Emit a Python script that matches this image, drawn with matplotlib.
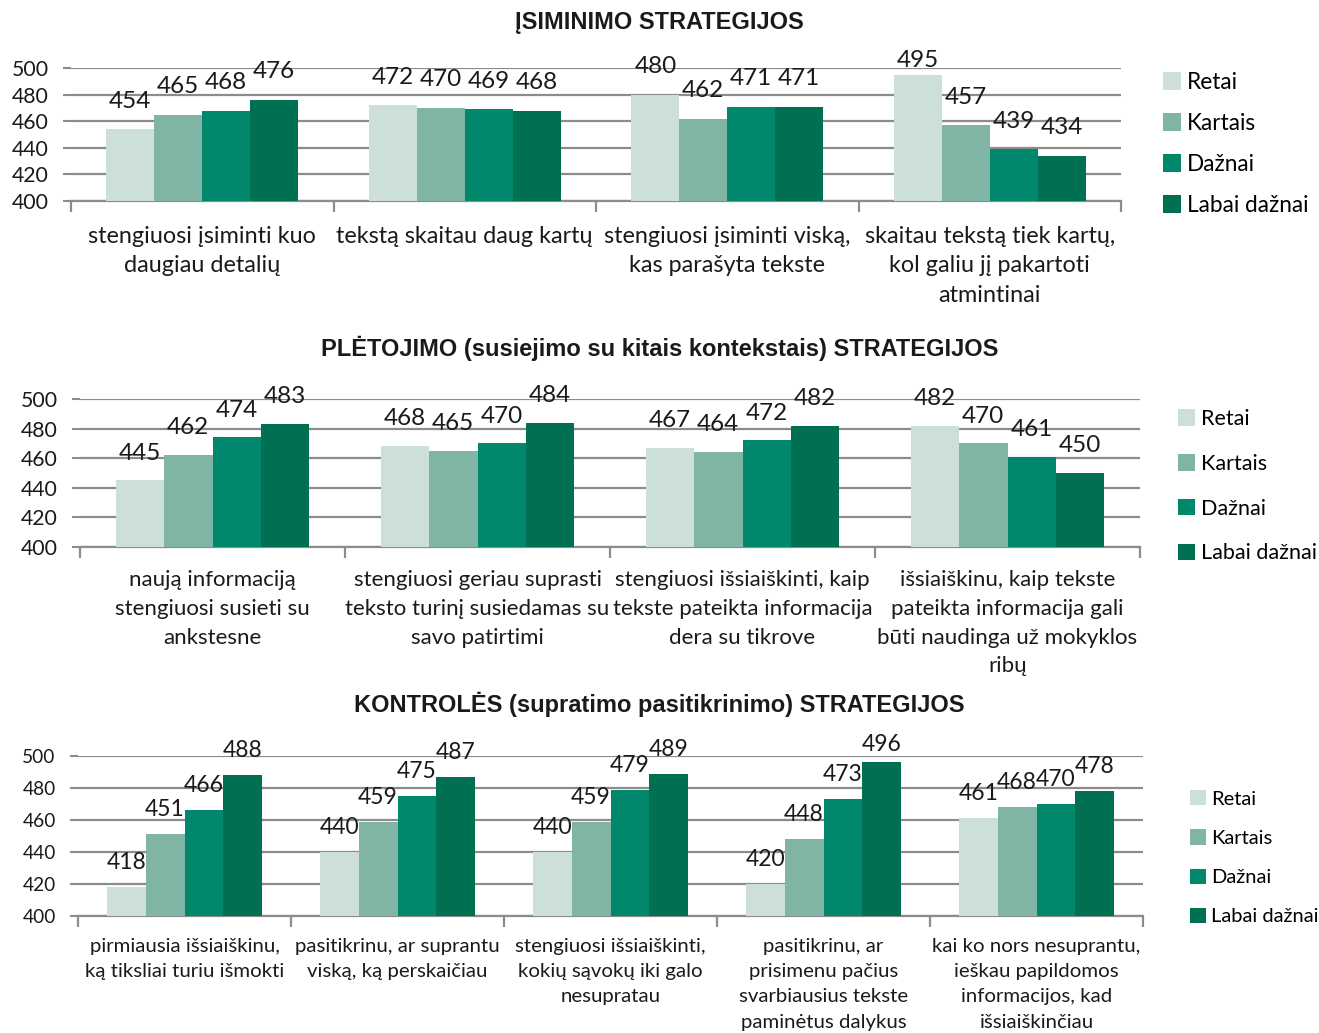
import matplotlib
matplotlib.use('Agg')
import matplotlib.pyplot as plt
import numpy as np
from matplotlib.patches import Patch

series = ['Retai', 'Kartais', 'Dažnai', 'Labai dažnai']
colors = ['#cce0d9', '#80b5a6', '#00876c', '#006f52']

# Panel 1
title1 = 'ĮSIMINIMO STRATEGIJOS'
cats1 = ['stengiuosi įsiminti kuo\ndaugiau detalių',
         'tekstą skaitau daug kartų',
         'stengiuosi įsiminti viską,\nkas parašyta tekste',
         'skaitau tekstą tiek kartų,\nkol galiu jį pakartoti\natmintinai']
retai1 = [454, 472, 480, 495]
kartais1 = [465, 470, 462, 457]
daznai1 = [468, 469, 471, 439]
labai1 = [476, 468, 471, 434]

# Panel 2
title2 = 'PLĖTOJIMO (susiejimo su kitais kontekstais) STRATEGIJOS'
cats2 = ['naują informaciją\nstengiuosi susieti su\nankstesne',
         'stengiuosi geriau suprasti\nteksto turinį susiedamas su\nsavo patirtimi',
         'stengiuosi išsiaiškinti, kaip\ntekste pateikta informacija\ndera su tikrove',
         'išsiaiškinu, kaip tekste\npateikta informacija gali\nbūti naudinga už mokyklos\nribų']
retai2 = [445, 468, 467, 482]
kartais2 = [462, 465, 464, 470]
daznai2 = [474, 470, 472, 461]
labai2 = [483, 484, 482, 450]

# Panel 3
title3 = 'KONTROLĖS (supratimo pasitikrinimo) STRATEGIJOS'
cats3 = ['pirmiausia išsiaiškinu,\nką tiksliai turiu išmokti',
         'pasitikrinu, ar suprantu\nviską, ką perskaičiau',
         'stengiuosi išsiaiškinti,\nkokių sąvokų iki galo\nnesupratau',
         'pasitikrinu, ar\nprisimenu pačius\nsvarbiausius tekste\npaminėtus dalykus',
         'kai ko nors nesuprantu,\nieškau papildomos\ninformacijos, kad\nišsiaiškinčiau']
retai3 = [418, 440, 440, 420, 461]
kartais3 = [451, 459, 459, 448, 468]
daznai3 = [466, 475, 479, 473, 470]
labai3 = [488, 487, 489, 496, 478]

yticks = [400, 420, 440, 460, 480, 500]

W, H = 1319, 1033
fig = plt.figure(figsize=(W / 100, H / 100), dpi=100)
FONT = 'Lato'
grid_c = '#8c8c8c'

panels = [
    dict(title=title1, cats=cats1, data=[retai1, kartais1, daznai1, labai1],
         box=(71, 68, 1121, 201), title_y=22, lab_fs=17.5, ytick_fs=15.3, cat_fs=16.8,
         cat_pad=18, cat_ls=1.49, off=21, cap=505.5,
         leg=(1163, 72), leg_fs=16.3, leg_sp=0.88),
    dict(title=title2, cats=cats2, data=[retai2, kartais2, daznai2, labai2],
         box=(80, 399, 1140, 547), title_y=348, lab_fs=17.5, ytick_fs=15.3, cat_fs=16,
         cat_pad=16.5, cat_ls=1.55, off=18.5, cap=506,
         leg=(1178, 409), leg_fs=15.5, leg_sp=1.15),
    dict(title=title3, cats=cats3, data=[retai3, kartais3, daznai3, labai3],
         box=(78, 756, 1143, 916), title_y=704, lab_fs=16.5, ytick_fs=13.8, cat_fs=14.7,
         cat_pad=15.5, cat_ls=1.6, off=15.3, cap=507,
         leg=(1190, 790), leg_fs=14.5, leg_sp=1.07),
]

group_w = 0.73
for p in panels:
    x0, y0, x1, y1 = p['box']
    ax = fig.add_axes([x0 / W, 1 - y1 / H, (x1 - x0) / W, (y1 - y0) / H])
    n = len(p['cats'])
    bw = group_w / 4
    centers = np.arange(n) + 0.5
    for j, (vals, c) in enumerate(zip(p['data'], colors)):
        xs = centers + (j - 1.5) * bw
        v = np.array(vals)
        ax.bar(xs, v - 400, bottom=400, width=bw, color=c, zorder=3, linewidth=0)
        for xx, vv in zip(xs, v):
            ax.text(xx, min(vv + p['off'], p['cap']), str(vv), ha='center', va='center',
                    fontsize=p['lab_fs'], family=FONT, color='#1a1a1a', zorder=5, clip_on=False)
    ax.set_xlim(0, n)
    ax.set_ylim(400, 500)
    ax.set_yticks(yticks)
    ax.set_yticklabels([str(t) for t in yticks], fontsize=p['ytick_fs'], family=FONT, color='#1a1a1a')
    ax.tick_params(axis='y', length=6, width=1.5, color=grid_c, pad=10)
    ax.grid(axis='y', color=grid_c, linewidth=1.6, zorder=0)
    ax.set_xticks(centers)
    ax.set_xticklabels(p['cats'], fontsize=p['cat_fs'], family=FONT, color='#1a1a1a')
    for t in ax.get_xticklabels():
        t.set_linespacing(p['cat_ls'])
    ax.tick_params(axis='x', which='major', length=0, pad=p['cat_pad'])
    ax.set_xticks(np.arange(n + 1), minor=True)
    ax.tick_params(axis='x', which='minor', length=8, width=1.6, color=grid_c)
    for s in ['left', 'right', 'top']:
        ax.spines[s].set_visible(False)
    ax.spines['bottom'].set_color(grid_c)
    ax.spines['bottom'].set_linewidth(1.6)
    ax.set_axisbelow(True)

    fig.text(0.5, 1 - p['title_y'] / H, p['title'], ha='center', va='center',
             fontsize=17, fontweight='bold', family='Liberation Sans', color='#1a1a1a')

    handles = [Patch(facecolor=c, edgecolor='none', label=s) for s, c in zip(series, colors)]
    lx, ly = p['leg']
    fig.legend(handles=handles, loc='upper left', bbox_to_anchor=(lx / W, 1 - ly / H),
               frameon=False, prop={'family': FONT, 'size': p['leg_fs']},
               handlelength=0.8, handleheight=0.8, handletextpad=0.25,
               labelspacing=p['leg_sp'], borderpad=0, borderaxespad=0)

fig.savefig('out.png', dpi=100)
